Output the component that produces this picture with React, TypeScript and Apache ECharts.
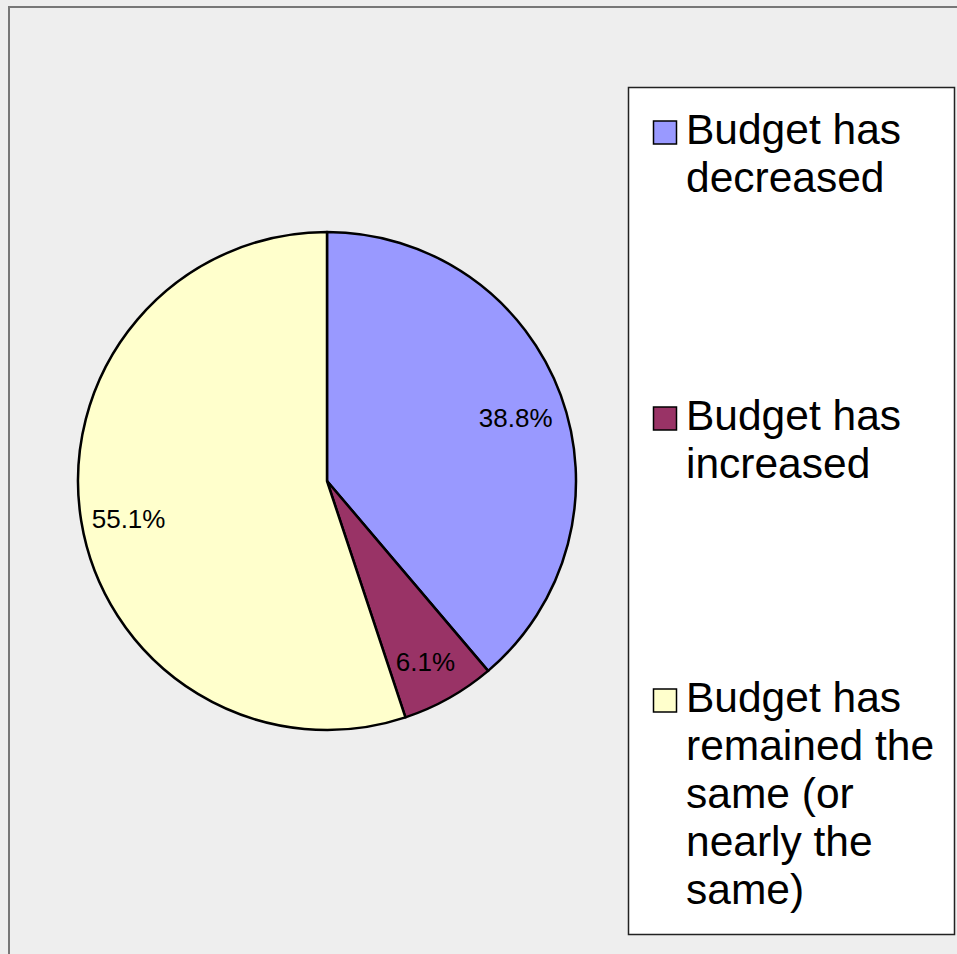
import React, { useEffect, useRef } from "react";
import * as echarts from "echarts";

const categories = [
  "Budget has decreased",
  "Budget has increased",
  "Budget has remained the same (or nearly the same)",
];
const legendLines = [
  ["Budget has", "decreased"],
  ["Budget has", "increased"],
  ["Budget has", "remained the", "same (or", "nearly the", "same)"],
];
const values = [38.8, 6.1, 55.1];
const colors = ["#9999FF", "#993366", "#FFFFCC"];

const legendItemTops = [105, 391, 673];
const FONT = "'Liberation Sans', Arial, sans-serif";

export default function App() {
  const ref = useRef<HTMLDivElement>(null);
  useEffect(() => {
    if (!ref.current) return;
    const chart = echarts.init(ref.current, undefined, { renderer: "svg" });
    const data = categories.map((name, i) => ({
      name,
      value: values[i],
      itemStyle: { color: colors[i] },
    }));
    const legendGraphics: any[] = [];
    legendLines.forEach((lines, i) => {
      const top = legendItemTops[i];
      legendGraphics.push({
        type: "rect",
        shape: { x: 653.5, y: top + 16, width: 23, height: 23 },
        style: { fill: colors[i], stroke: "#000", lineWidth: 1.5 },
        z: 10,
      });
      legendGraphics.push({
        type: "text",
        x: 686,
        y: top,
        style: {
          text: lines.join("\n"),
          fontSize: 42.5,
          lineHeight: 48,
          fontFamily: FONT,
          fill: "#000",
          verticalAlign: "top",
          align: "left",
        },
        z: 10,
      });
    });
    chart.setOption({
      animation: false,
      backgroundColor: "#EEEEEE",
      graphic: [
        {
          type: "rect",
          shape: { x: 9, y: 7, width: 1200, height: 1200 },
          style: { fill: "none", stroke: "#777777", lineWidth: 2 },
          z: 1,
        },
        {
          type: "rect",
          shape: { x: 628.5, y: 87.5, width: 326, height: 847 },
          style: { fill: "#FFFFFF", stroke: "#222222", lineWidth: 1.5 },
          z: 5,
        },
        ...legendGraphics,
      ],
      series: [
        {
          type: "pie",
          center: [327, 481],
          radius: [0, 249],
          startAngle: 90,
          clockwise: true,
          avoidLabelOverlap: false,
          label: { show: false },
          labelLine: { show: false },
          emphasis: { disabled: true },
          itemStyle: { borderColor: "#000", borderWidth: 2.5 },
          data,
          z: 2,
        },
        {
          type: "pie",
          center: [327, 481],
          radius: [147, 249],
          startAngle: 90,
          clockwise: true,
          silent: true,
          avoidLabelOverlap: false,
          emphasis: { disabled: true },
          itemStyle: { color: "rgba(0,0,0,0)", borderWidth: 0 },
          label: {
            show: true,
            position: "inside",
            fontSize: 26,
            fontFamily: FONT,
            color: "#000",
            offset: [0, 6],
            formatter: (p: any) => `${Number(p.value).toFixed(1)}%`,
          },
          labelLine: { show: false },
          data: categories.map((name, i) => ({ name, value: values[i] })),
          z: 3,
        },
      ],
    });
    return () => chart.dispose();
  }, []);
  return (
    <div
      ref={ref}
      style={{ position: "fixed", left: 0, top: 0, width: 957, height: 954 }}
    />
  );
}
